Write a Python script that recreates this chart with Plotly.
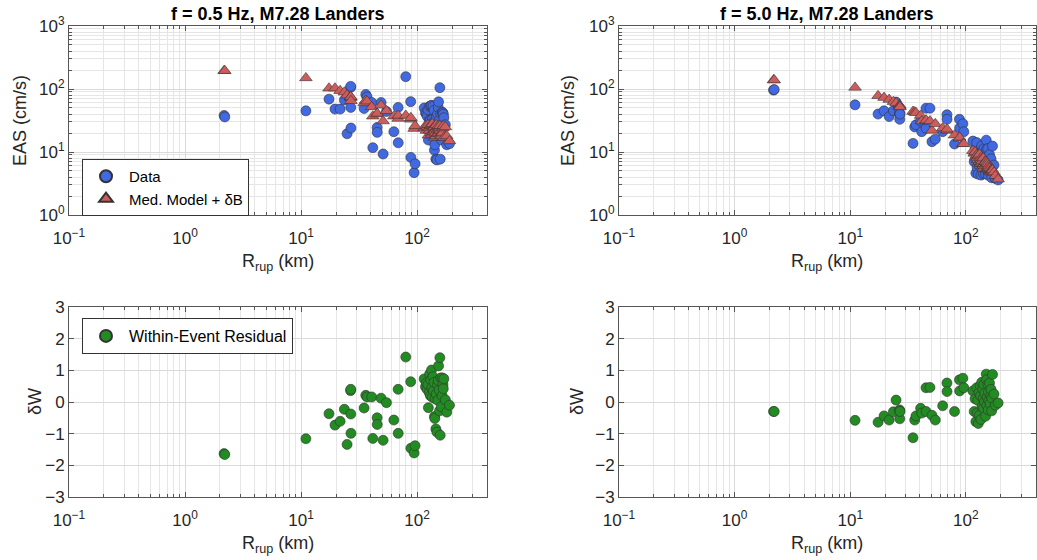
import math
import plotly.graph_objects as go

# ---------------- data ----------------
# Station rupture distances (km)
rrup = [2.17, 2.20, 11.0, 17.4, 19.6, 21.7, 23.6, 24.9, 26.7, 26.8, 26.8, 26.9,
        34.9, 36.1, 37.0, 40.6, 41.5, 45.2, 45.3, 48.9, 50.9, 54.4, 63.0, 68.6,
        68.7, 79.8, 88.0, 88.3, 94.2, 96.0,
        115, 118, 120, 122, 124, 125, 127, 128, 130, 131, 133, 134, 135, 137, 138,
        140, 141, 142, 143, 145, 146, 148, 150, 151, 152, 153, 155, 156, 157, 158,
        160, 162, 164, 165, 167, 168, 170, 175, 180, 190]

# f = 0.5 Hz
data_05 = [38, 36, 45, 69, 48, 48, 67, 19.5, 106, 110, 51, 24,
           49, 82, 75, 61, 11.7, 24.5, 20.5, 61, 9.3, 44, 21, 51,
           14, 157, 63, 8.2, 4.7, 6.5,
           50, 42, 40, 37, 47, 15.5, 32, 53, 32, 54, 55, 30, 32.5, 53, 30,
           46, 10.7, 13, 22, 7.7, 35, 7.5, 40, 26, 51, 62.5, 32, 18, 105, 7.7,
           40.6, 15.5, 25.6, 42.8, 41.6, 39.6, 35, 27, 13, 13.6]
model_05 = [195, 195, 150, 103, 103, 94, 89, 80, 75, 73, 75, 65,
            60, 66, 64, 52, 37, 40, 41, 55, 31, 45, 37, 34,
            38, 38, 33, 35, 23.5, 26,
            24, 26, 22, 25, 27, 18.5, 24, 22, 26, 27, 20, 19, 28, 24, 21,
            25, 17, 22, 20, 18, 27, 19.5, 23, 25, 26, 20, 22, 24, 26, 22,
            19, 18, 21, 20, 24, 26, 17, 25, 18, 15]
resid_05 = [-1.63, -1.66, -1.16, -0.37, -0.73, -0.61, -0.23, -1.34, 0.36, 0.40, -0.38, -0.99,
            -0.19, 0.21, 0.16, 0.16, -1.15, -0.50, -0.71, 0.12, -1.21, -0.02, -0.57, 0.40,
            -0.99, 1.42, 0.64, -1.46, -1.61, -1.38,
            0.73, 0.48, 0.60, 0.40, 0.55, -0.18, 0.30, 0.88, 0.20, 0.70, 1.01, 0.45, 0.15, 0.80, 0.35,
            0.62, -0.46, -0.52, 0.10, -0.85, 0.25, -0.95, 0.55, 0.05, 0.68, 1.14, 0.38, -0.28, 1.40, -1.05,
            0.76, -0.15, 0.20, 0.76, 0.55, 0.42, 0.73, 0.07, -0.32, -0.10]

# f = 5.0 Hz
data_50 = [96, 98, 56, 40, 45, 36.5, 45, 62, 42, 40, 33, 40,
           13.7, 25, 27, 31, 21, 49.5, 23.8, 49.5, 14.6, 16, 21, 39,
           33, 13.4, 33, 24, 28, 21,
           14.9, 7.0, 11.1, 4.6, 14.1, 5.6, 7.9, 4.45, 9.45, 6.0, 10.9, 9.8, 4.3, 12.6, 6.2,
           9.0, 8.8, 4.5, 11.3, 6.0, 9.3, 4.5, 15.4, 11.1, 6.2, 6.2, 11.3, 4.3, 8.3, 5.9,
           9.1, 5.2, 5.9, 7.8, 3.9, 5.6, 12.4, 6.2, 3.8, 3.6]
model_50 = [139, 139, 106, 78, 73, 68, 63, 60, 55, 55, 53, 52,
            44, 43, 42, 38, 31, 31, 32, 31, 22, 28, 24, 22,
            23, 18.5, 16.5, 17, 13.5, 13.5,
            10.5, 9.5, 10.0, 8.5, 9.0, 8.0, 7.5, 8.8, 7.0, 9.2, 6.5, 8.0, 7.5, 6.8, 7.2,
            6.0, 8.0, 5.5, 6.5, 6.0, 7.0, 7.0, 6.4, 5.5, 6.8, 5.3, 6.5, 5.5, 6.0, 5.6,
            5.0, 5.5, 4.8, 5.2, 5.2, 5.0, 5.2, 4.8, 4.2, 3.7]
resid_50 = [-0.30, -0.30, -0.58, -0.64, -0.44, -0.57, -0.31, 0.06, -0.25, -0.28, -0.53, -0.30,
            -1.13, -0.57, -0.44, -0.20, -0.35, 0.45, -0.30, 0.46, -0.42, -0.57, -0.12, 0.60,
            0.33, -0.30, 0.70, 0.35, 0.75, 0.45,
            0.35, -0.30, 0.10, -0.62, 0.45, -0.35, 0.05, -0.68, 0.30, -0.42, 0.52, 0.20, -0.55, 0.62, -0.15,
            0.40, 0.10, -0.20, 0.55, 0.00, 0.28, -0.45, 0.88, 0.70, -0.10, 0.15, 0.55, -0.25, 0.32, 0.05,
            0.60, -0.05, 0.20, 0.40, -0.28, 0.12, 0.87, 0.25, -0.10, -0.03]

titles = ["f = 0.5 Hz, M7.28 Landers", "f = 5.0 Hz, M7.28 Landers"]
x_ticks = [0.1, 1, 10, 100]
x_ticktext = ["10<sup>−1</sup>", "10<sup>0</sup>", "10<sup>1</sup>", "10<sup>2</sup>"]
y_log_ticks = [1, 10, 100, 1000]
y_log_ticktext = ["10<sup>0</sup>", "10<sup>1</sup>", "10<sup>2</sup>", "10<sup>3</sup>"]
y_res_ticks = [-3, -2, -1, 0, 1, 2, 3]
y_res_ticktext = ["−3", "−2", "−1", "0", "1", "2", "3"]

# ---------------- style ----------------
FONT = "Liberation Sans, Arial, Helvetica, sans-serif"
TXT = "#262626"
AX = "#555555"
GRID = "#dadada"
MGRID = "#e6e6e6"
BLUE = "#4169E1"
RED = "#CD5C5C"
GREEN = "#228B22"
EDGE = "#333333"

W, H = 1037, 560
xl = [69 / W, 487 / W]
xr = [619 / W, 1035.5 / W]
yt = [1 - 215 / H, 1 - 26 / H]
yb = [1 - 497 / H, 1 - 307 / H]

minor_x = [k * 10 ** e for e in range(-1, 3) for k in range(2, 10) if k * 10 ** e <= 400]
minor_y = [k * 10 ** e for e in range(0, 3) for k in range(2, 10)]

fig = go.Figure()

def mk(color, symbol="circle", size=10):
    return dict(color=color, symbol=symbol, size=size, line=dict(color=EDGE, width=0.6))

# top-left
fig.add_trace(go.Scatter(x=rrup, y=data_05, mode="markers", name="Data",
                         marker=mk(BLUE), xaxis="x", yaxis="y", legend="legend"))
fig.add_trace(go.Scatter(x=rrup, y=model_05, mode="markers", name="Med. Model + δB",
                         marker=mk(RED, "triangle-up", 11), xaxis="x", yaxis="y", legend="legend"))
# top-right
fig.add_trace(go.Scatter(x=rrup, y=data_50, mode="markers", name="Data", showlegend=False,
                         marker=mk(BLUE), xaxis="x2", yaxis="y2"))
fig.add_trace(go.Scatter(x=rrup, y=model_50, mode="markers", name="Med. Model + δB", showlegend=False,
                         marker=mk(RED, "triangle-up", 11), xaxis="x2", yaxis="y2"))
# bottom-left
fig.add_trace(go.Scatter(x=rrup, y=resid_05, mode="markers", name="Within-Event Residual",
                         marker=mk(GREEN), xaxis="x3", yaxis="y3", legend="legend2"))
# bottom-right
fig.add_trace(go.Scatter(x=rrup, y=resid_50, mode="markers", name="Within-Event Residual",
                         showlegend=False, marker=mk(GREEN), xaxis="x4", yaxis="y4"))

tickfont = dict(family=FONT, size=17, color=TXT)
titlefont = dict(family=FONT, size=18, color=TXT)

common = dict(ticks="inside", ticklen=5, tickcolor=AX, showline=True, linecolor=AX,
              linewidth=1, mirror="allticks", showgrid=True, gridcolor=GRID,
              zeroline=False, tickfont=tickfont, automargin=False)

def xaxis(domain, anchor):
    return dict(type="log", range=[-1, math.log10(400)], domain=domain, anchor=anchor,
                tickvals=x_ticks, ticktext=x_ticktext, ticklabelstandoff=8,
                minor=dict(tickvals=minor_x, ticks="inside", ticklen=3, tickcolor=AX,
                           showgrid=True, gridcolor=MGRID), **common)

def ylog(domain, anchor):
    return dict(type="log", range=[0, 3], domain=domain, anchor=anchor,
                tickvals=y_log_ticks, ticktext=y_log_ticktext,
                minor=dict(tickvals=minor_y, ticks="inside", ticklen=3, tickcolor=AX,
                           showgrid=True, gridcolor=MGRID), **common)

def yres(domain, anchor):
    return dict(type="linear", range=[-3, 3], domain=domain, anchor=anchor,
                tickvals=y_res_ticks, ticktext=y_res_ticktext, **common)

legfont = dict(family=FONT, size=15, color="black")
fig.update_layout(
    width=W, height=H,
    margin=dict(l=0, r=0, t=0, b=0, autoexpand=False),
    paper_bgcolor="white", plot_bgcolor="white",
    font=dict(family=FONT, color=TXT),
    xaxis=xaxis(xl, "y"), yaxis=ylog(yt, "x"),
    xaxis2=xaxis(xr, "y2"), yaxis2=ylog(yt, "x2"),
    xaxis3=xaxis(xl, "y3"), yaxis3=yres(yb, "x3"),
    xaxis4=xaxis(xr, "y4"), yaxis4=yres(yb, "x4"),
    legend=dict(x=82 / W, y=1 - 159 / H, xanchor="left", yanchor="top",
                bgcolor="white", bordercolor="#333333", borderwidth=1,
                font=legfont, itemsizing="constant", itemwidth=36, tracegroupgap=0),
    legend2=dict(x=82 / W, y=1 - 318 / H, xanchor="left", yanchor="top",
                 bgcolor="white", bordercolor="#333333", borderwidth=1,
                 font=dict(family=FONT, size=16, color="black"),
                 itemsizing="constant", itemwidth=36),
    showlegend=True,
)

# panel titles
centers = [(xl[0] + xl[1]) / 2, (xr[0] + xr[1]) / 2]
for cx, t in zip(centers, titles):
    fig.add_annotation(text="<b>" + t + "</b>", x=cx, y=1 - 14 / H, xref="paper", yref="paper",
                       showarrow=False, xanchor="center", yanchor="middle",
                       font=dict(family=FONT, size=18, color="black"))

# axis titles
for cx in centers:
    for yc in (262, 544):
        fig.add_annotation(text="R<sub>rup</sub> (km)", x=cx, y=1 - yc / H, xref="paper",
                           yref="paper", showarrow=False, xanchor="center", yanchor="middle",
                           font=titlefont)
for xc in (20, 568):
    fig.add_annotation(text="EAS (cm/s)", x=xc / W, y=1 - 121 / H, xref="paper", yref="paper",
                       showarrow=False, xanchor="center", yanchor="middle", textangle=-90,
                       font=titlefont)
for xc in (35, 577):
    fig.add_annotation(text="δW", x=xc / W, y=1 - 402 / H, xref="paper", yref="paper",
                       showarrow=False, xanchor="center", yanchor="middle", textangle=-90,
                       font=titlefont)

fig.write_html("out.html")
